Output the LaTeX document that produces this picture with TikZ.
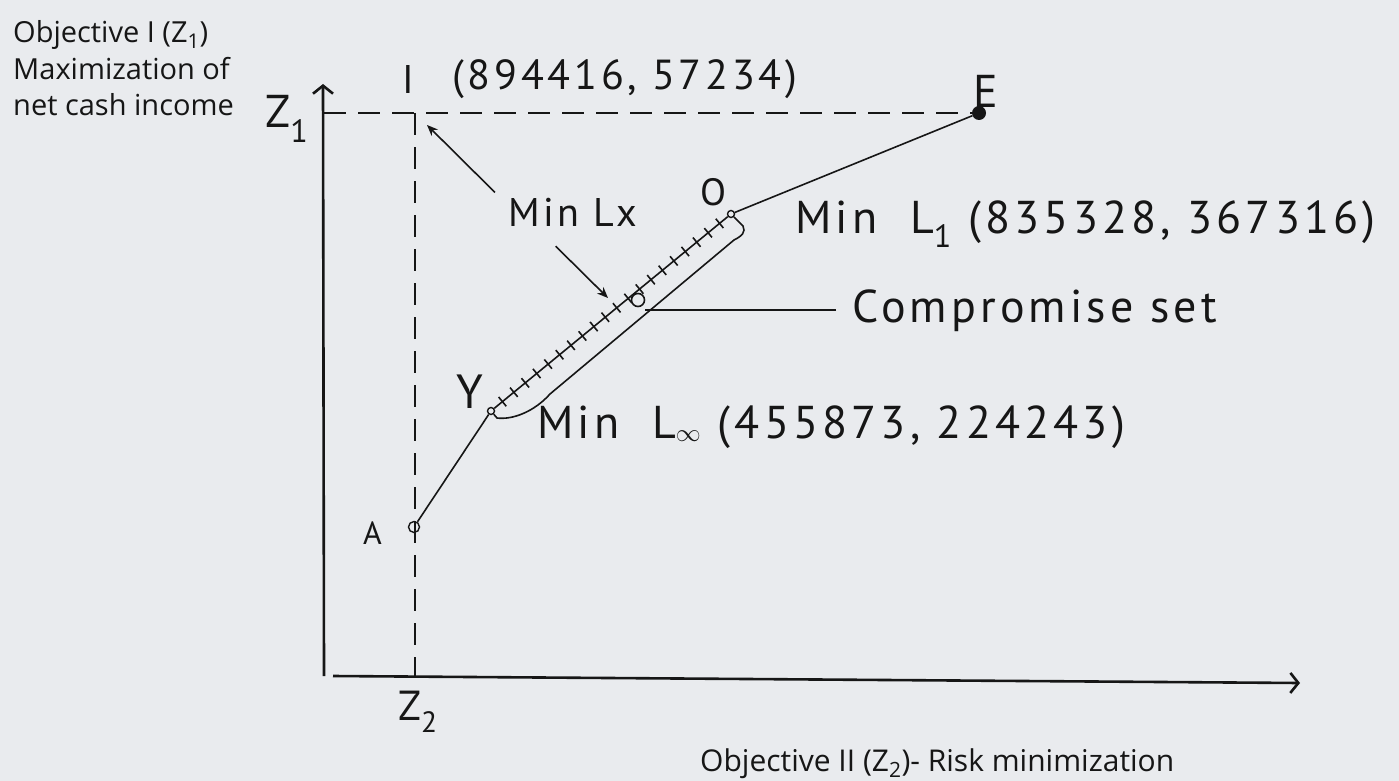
\documentclass[tikz,border=0pt]{standalone}
\usepackage{fontspec}
\setmainfont{Open Sans}
\newfontfamily\handfont[LetterSpace=9]{PT Sans}
\usetikzlibrary{arrows.meta,positioning,calc}
\definecolor{scanGray}{RGB}{233,235,238}
\definecolor{inkBlack}{RGB}{22,22,22}

\begin{document}
\begin{tikzpicture}[x=1pt,y=-1pt,
    hand/.style={font=\handfont\fontsize{#1}{#1}\selectfont,inner sep=0pt,text=inkBlack},
    hand/.default=46,
    print/.style={font=\fontsize{29}{36.5}\selectfont,inner sep=0pt,text=inkBlack,align=left},
    axis/.style={line width=2.6pt,draw=inkBlack,-{Straight Barb[length=8pt,width=20pt]}},
    guide/.style={line width=2.6pt,draw=inkBlack,dash pattern=on 22pt off 12pt},
    thinline/.style={line width=1.6pt,draw=inkBlack},
    pointer/.style={thinline,-{Stealth[length=11pt,width=9pt]}}]
  \fill[scanGray] (0,0) rectangle (1399,781);
  \useasboundingbox (0,0) rectangle (1399,781);
  % axes
  \coordinate (orig) at (324,676);
  \coordinate (ytop) at (323,84);
  \coordinate (xend) at (1300,683);
  \draw[axis] (orig) -- (ytop);
  \draw[axis] (orig) ++(9,0) -- (xend);
  \node[print,anchor=base west] (objone) at (13,116)
    {Objective I (Z\textsubscript{1})\\Maximization of\\net cash income};
  \node[print,font=\fontsize{30}{36}\selectfont,anchor=base west] (objtwo) at (700,771)
    {Objective II (Z\textsubscript{2})- Risk minimization};
  \node[hand,anchor=base west] (zone) at (265,128) {Z\textsubscript{1}};
  \node[hand=42,anchor=base west] (ztwo) at (398,720) {Z\textsubscript{2}};
  % points
  \coordinate (icorner) at (415,113);
  \node[circle,fill=inkBlack,inner sep=0pt,minimum size=14pt] (ept) at (979,113) {};
  \node[circle,draw=inkBlack,line width=1.4pt,inner sep=0pt,minimum size=7pt] (opt) at (731,214) {};
  \node[circle,draw=inkBlack,line width=1.4pt,inner sep=0pt,minimum size=7pt] (ypt) at (491,411) {};
  \node[circle,draw=inkBlack,line width=1.4pt,inner sep=0pt,minimum size=11pt] (apt) at (414,527) {};
  \node[circle,draw=inkBlack,line width=1.6pt,inner sep=0pt,minimum size=13pt] (cpt) at (638,300) {};
  % dashed guides
  \draw[guide] (orig |- icorner) -- (ept);
  \draw[guide] (icorner) -- (icorner |- orig);
  % labels
  \node[hand=40,anchor=base west] (ilab) at (402,94) {I};
  \node[hand=42,anchor=base west] (ipair) at (452,90) {(894416, 57234)};
  \node[hand=46,anchor=base west] (elab) at (973,107) {E};
  \node[hand=38,anchor=base west] (olab) at (700,205) {O};
  \node[hand=48,anchor=base west] (ylab) at (456,408) {Y};
  \node[hand=32,anchor=base west] (alab) at (363,544) {A};
  \node[hand=40,anchor=base west] (lx) at (508,226) {Min Lx};
  \node[hand,anchor=base west] (lone) at (795,233) {Min\ \ L\textsubscript{1} (835328, 367316)};
  \node[hand,anchor=base west] (cset) at (852,322) {Compromise set};
  \node[hand,anchor=base west] (linf) at (537,438) {Min\ \ L\textsubscript{$\infty$} (455873, 224243)};
  % frontier
  \draw[thinline] (ept) -- (opt);
  \draw[thinline] (apt) -- (ypt);
  \draw[thinline] (ypt) -- (opt);
  \foreach \k in {1,...,20}{
    \coordinate (tk) at ($(ypt)!\k/21!(opt)$);
    \draw[thinline] ($(tk)!6pt!90:(opt)$) -- ($(tk)!6pt!-90:(opt)$);
  }
  % compromise set outline
  \draw[thinline] (opt) -- (743,226) .. controls (746,232) and (742,236) .. (734,240)
    -- (550,394) .. controls (534,412) and (512,420) .. (497,418) -- (ypt);
  \draw[thinline] (cset.west) ++(-16,0) -- (cset.west -| cpt.east);
  % pointers from Min Lx
  \draw[pointer] (lx.north west) ++(-13,-5) -- ([xshift=12pt,yshift=-12pt]icorner);
  \draw[pointer] (lx.south) ++(-17,20) -- ([xshift=-30pt,yshift=2pt]cpt.center);
\end{tikzpicture}
\end{document}
